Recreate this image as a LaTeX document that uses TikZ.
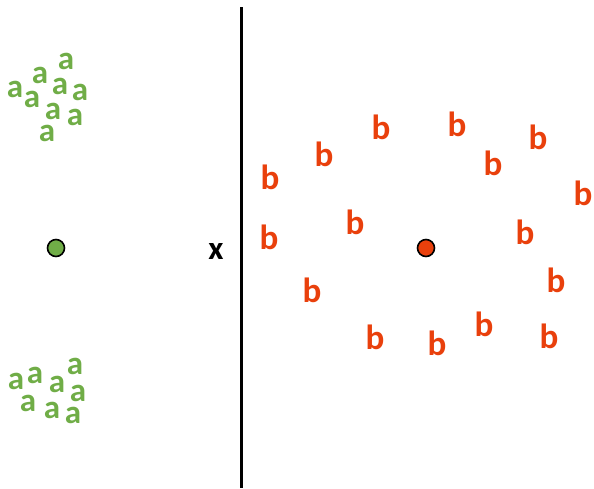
\documentclass[tikz,border=0pt]{standalone}
\usepackage{fontspec}
\setmainfont{Carlito}
\definecolor{agreen}{RGB}{112,173,71}
\definecolor{borange}{RGB}{233,64,12}
\tikzset{
  lettera/.style={text=agreen, font=\bfseries\fontsize{33}{33}\selectfont, inner sep=0pt},
  letterb/.style={text=borange, font=\bfseries\fontsize{35}{35}\selectfont, inner sep=0pt},
  centre/.style={circle, draw=black, line width=1.6pt, minimum size=17pt, inner sep=0pt},
}
\begin{document}
\begin{tikzpicture}[x=1pt,y=-1pt]
\useasboundingbox (0,0) rectangle (594,488);
% dividing line
\coordinate (top) at (241,7);
\coordinate (bot) at (241,488);
\draw[line width=3pt] (top) -- (bot);
\node[font=\bfseries\fontsize{33}{33}\selectfont, inner sep=0pt] (xl) at (216,251) {x};
% green cluster centre
\node[centre, fill=agreen] (ga) at (56,248) {};
% upper group of a
\foreach \px/\py [count=\i] in {66/61, 40/75, 15/89, 60/86, 80/92, 32/99, 53/111, 75/117, 47/133}
  \node[lettera] (au\i) at (\px,\py) {a};
% lower group of a
\foreach \px/\py [count=\i] in {75/366, 35/375, 16/381, 57/384, 78/393, 28/403, 52/410, 73/415}
  \node[lettera] (al\i) at (\px,\py) {a};
% orange centre
\node[centre, fill=borange] (ob) at (426,248) {};
% ring of b
\foreach \px/\py [count=\i] in {381/127, 457/124, 538/137, 324/154, 493/163, 270/177, 583/193, 355/222,
  269/237, 525/232, 556/280, 312/290, 375/337, 437/343, 484/324, 549/336}
  \node[letterb] (b\i) at (\px,\py) {b};
\end{tikzpicture}
\end{document}
